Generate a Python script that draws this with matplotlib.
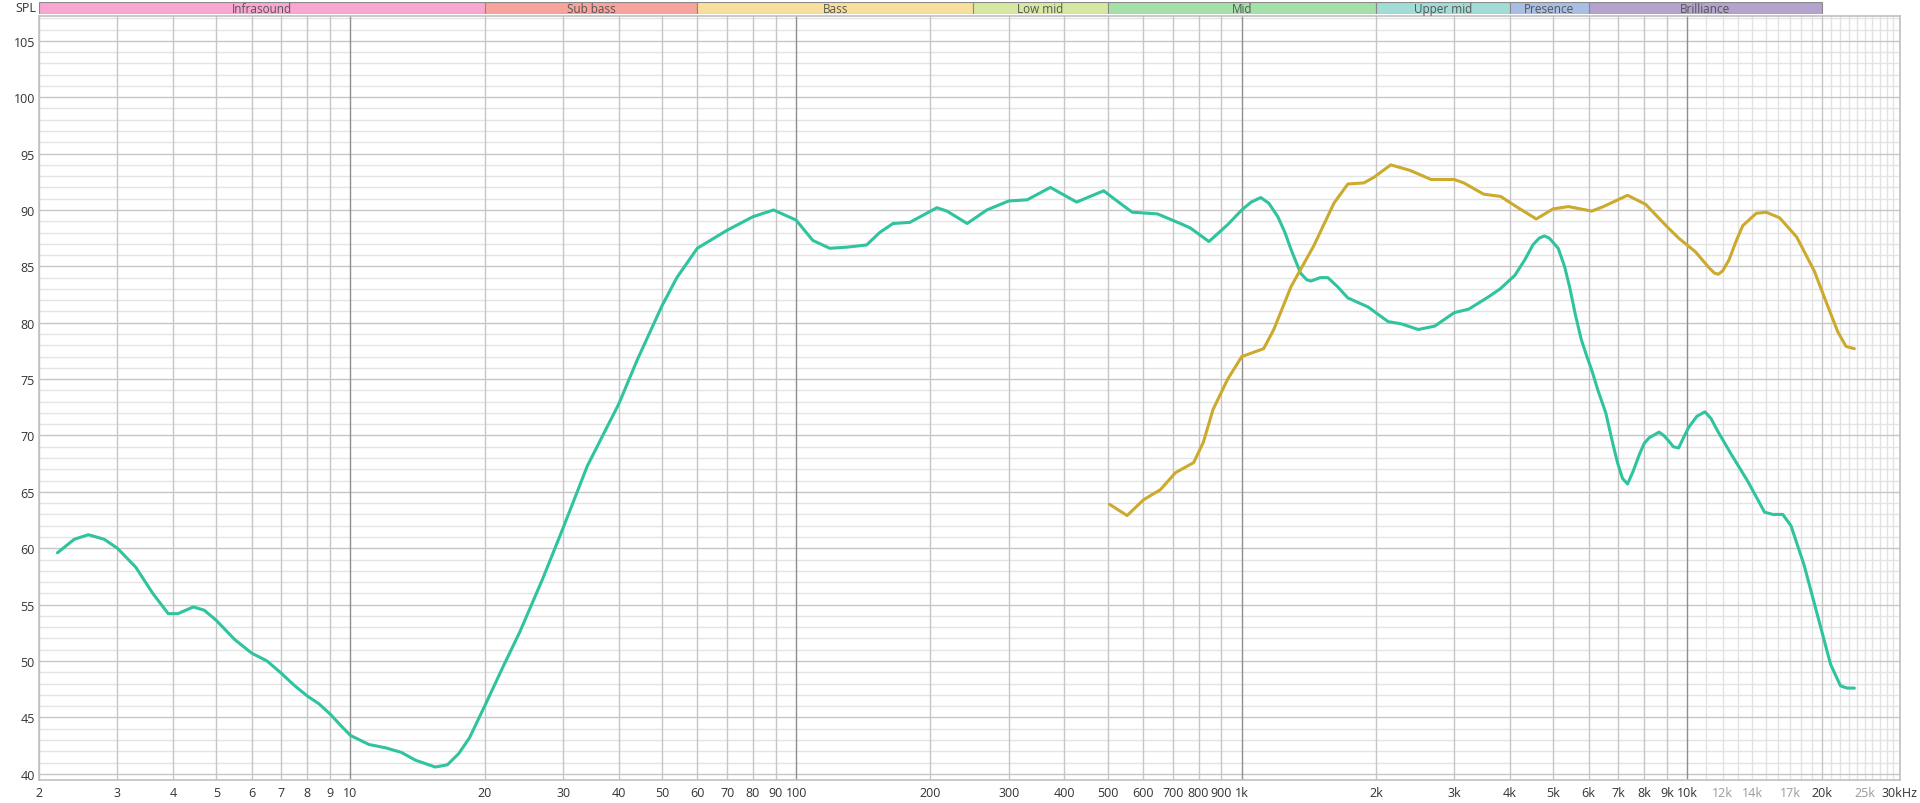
import matplotlib
matplotlib.use("Agg")
import matplotlib.pyplot as plt
from matplotlib.patches import Rectangle

plt.rcParams['font.family'] = ['Open Sans', 'DejaVu Sans']

# ---- data ----
teal_f = [2.2, 2.4, 2.58, 2.8, 3.0, 3.3, 3.6, 3.9, 4.1, 4.44, 4.7, 5.0, 5.5, 6.0, 6.5, 7.0, 7.5, 8.0, 8.5, 9.0,
          9.5, 10, 11, 12, 13, 14, 15.5, 16.5, 17.5, 18.5, 20, 22, 24, 27, 30, 34, 40, 44, 50, 54, 60, 70, 80, 89,
          100, 109, 119, 130, 144, 154, 165, 180, 190, 207, 218, 242, 268, 300, 330, 372, 426, 490, 533, 568,
          647, 728, 767, 844, 930, 1000, 1050, 1103, 1150, 1205, 1250, 1290, 1355, 1400, 1430, 1500, 1560,
          1640, 1730, 1920, 2130, 2280, 2490, 2710, 3000, 3230, 3580, 3800, 4100, 4320, 4500, 4650, 4775,
          4900, 5130, 5300, 5440, 5600, 5780, 5950, 6100, 6300, 6560, 6800, 6970, 7150, 7340, 7550, 7800,
          8000, 8210, 8640, 8850, 9090, 9300, 9560, 9800, 10060, 10500, 10950, 11300, 11730, 12560, 13680,
          14900, 15560, 16370, 17080, 18280, 19580, 20960, 22060, 22830, 23700]
teal_db = [59.6, 60.8, 61.2, 60.8, 60.0, 58.3, 56.0, 54.2, 54.2, 54.8, 54.5, 53.6, 51.9, 50.7, 50.0, 48.9,
           47.8, 46.9, 46.2, 45.3, 44.3, 43.4, 42.6, 42.3, 41.9, 41.2, 40.6, 40.8, 41.8, 43.2, 46.0, 49.5,
           52.6, 57.3, 61.8, 67.3, 72.8, 76.7, 81.5, 84.0, 86.6, 88.2, 89.4, 90.0, 89.1, 87.3, 86.6, 86.7,
           86.9, 88.0, 88.8, 88.9, 89.4, 90.2, 89.9, 88.8, 90.0, 90.8, 90.9, 92.0, 90.7, 91.7, 90.6, 89.8,
           89.65, 88.8, 88.4, 87.2, 88.7, 90.0, 90.7, 91.1, 90.6, 89.4, 88.0, 86.5, 84.4, 83.8, 83.7, 84.0,
           84.0, 83.2, 82.2, 81.4, 80.1, 79.9, 79.4, 79.7, 80.9, 81.2, 82.3, 83.0, 84.2, 85.6, 86.9, 87.5,
           87.7, 87.5, 86.6, 85.0, 83.2, 80.8, 78.5, 77.0, 75.8, 74.0, 72.0, 69.3, 67.6, 66.2, 65.7, 66.8,
           68.3, 69.3, 69.8, 70.3, 70.0, 69.5, 69.0, 68.9, 69.8, 70.7, 71.7, 72.1, 71.5, 70.3, 68.3, 65.9,
           63.2, 63.0, 63.0, 62.0, 58.5, 54.1, 49.7, 47.8, 47.6, 47.6]

gold_f = [505, 553, 602, 657, 710, 780, 820, 862, 930, 1000, 1120, 1180, 1290, 1450, 1610, 1730, 1880, 1980,
          2160, 2390, 2660, 3000, 3150, 3490, 3810, 4130, 4580, 5000, 5410, 6100, 6480, 7340, 8060, 8960,
          9560, 10420, 11170, 11500, 11730, 12000, 12410, 12850, 13310, 14270, 15030, 16110, 17590, 19260,
          20640, 21750, 22700, 23700]
gold_db = [63.9, 62.9, 64.3, 65.2, 66.7, 67.6, 69.4, 72.3, 75.0, 77.0, 77.7, 79.4, 83.2, 86.8, 90.6, 92.3,
           92.4, 92.9, 94.0, 93.5, 92.7, 92.7, 92.4, 91.4, 91.2, 90.3, 89.2, 90.1, 90.3, 89.9, 90.3, 91.3,
           90.5, 88.6, 87.5, 86.3, 84.9, 84.4, 84.3, 84.6, 85.6, 87.2, 88.6, 89.7, 89.8, 89.3, 87.6, 84.6,
           81.5, 79.2, 77.9, 77.7]

band_names = ["Infrasound", "Sub bass", "Bass", "Low mid", "Mid", "Upper mid", "Presence", "Brilliance"]
band_lo = [2, 20, 60, 250, 500, 2000, 4000, 6000]
band_hi = [20, 60, 250, 500, 2000, 4000, 6000, 20000]
band_colors = ["#f9a6d2", "#f8a39b", "#f9df9c", "#d6e8a1", "#a4e1a8", "#a2dcd6", "#a8bfe3", "#b4a3cd"]

x_ticks = [2, 3, 4, 5, 6, 7, 8, 9, 10, 20, 30, 40, 50, 60, 70, 80, 90, 100, 200, 300, 400, 500, 600, 700,
           800, 900, 1000, 2000, 3000, 4000, 5000, 6000, 7000, 8000, 9000, 10000, 12000, 14000, 17000,
           20000, 25000, 30000]
x_labels = ["2", "3", "4", "5", "6", "7", "8", "9", "10", "20", "30", "40", "50", "60", "70", "80", "90",
            "100", "200", "300", "400", "500", "600", "700", "800", "900", "1k", "2k", "3k", "4k", "5k",
            "6k", "7k", "8k", "9k", "10k", "12k", "14k", "17k", "20k", "25k", "30kHz"]
light_labels = ["12k", "14k", "17k", "25k"]
y_ticks = list(range(40, 106, 5))

# ---- figure ----
W, H = 1920, 804
fig = plt.figure(figsize=(W / 100, H / 100), dpi=100)
fig.patch.set_facecolor("white")
L, R, T, B = 39, 1900, 17, 781
ax = fig.add_axes([L / W, 1 - B / H, (R - L) / W, (B - T) / H])
ax.set_xscale("log")
ax.set_xlim(2, 30000)
ax.set_ylim(39.45, 107.2)

# grid
for v in range(40, 108):
    if v % 5 == 0:
        ax.axhline(v, color="#c6c6c6", lw=1.0, zorder=1)
    else:
        ax.axhline(v, color="#e4e4e4", lw=1.0, zorder=0.5)
for dec in [1, 10, 100, 1000]:
    for m in range(2, 10):
        ax.axvline(m * dec, color="#c6c6c6", lw=1.0, zorder=1)
for v in [10, 100, 1000, 10000]:
    ax.axvline(v, color="#8e8e8e", lw=1.0, zorder=1.2)
for k in range(11, 31):
    if k == 20:
        ax.axvline(k * 1000, color="#c6c6c6", lw=1.0, zorder=1)
    else:
        ax.axvline(k * 1000, color="#e2e2e2", lw=1.0, zorder=0.8)

ax.plot(teal_f, teal_db, color="#2fc39e", lw=2.2, zorder=3, solid_joinstyle="round", solid_capstyle="round")
ax.plot(gold_f, gold_db, color="#cbaa2d", lw=2.2, zorder=3, solid_joinstyle="round", solid_capstyle="round")

for s in ax.spines.values():
    s.set_color("#c0c0c0")
    s.set_linewidth(1.2)

ax.set_xticks(x_ticks)
ax.set_xticklabels(x_labels)
ax.minorticks_off()
ax.set_yticks(y_ticks)
ax.set_yticklabels([str(v) for v in y_ticks])
ax.tick_params(axis="both", length=0, labelsize=9, colors="#333333")
ax.tick_params(axis="y", pad=3)
ax.tick_params(axis="x", pad=4)
for lab in ax.get_xticklabels():
    if lab.get_text() in light_labels:
        lab.set_color("#9a9a9a")

# band axis
bax = fig.add_axes([L / W, 1 - 15 / H, (R - L) / W, 12.5 / H])
bax.set_xscale("log")
bax.set_xlim(2, 30000)
bax.set_ylim(0, 1)
bax.axis("off")
for name, lo, hi, c in zip(band_names, band_lo, band_hi, band_colors):
    bax.add_patch(Rectangle((lo, 0), hi - lo, 1, facecolor=c, edgecolor="#8a8a8a", lw=0.8))
    bax.text((lo * hi) ** 0.5, 0.45, name, ha="center", va="center", fontsize=8.5, color="#555555")

fig.text(36 / W, 1 - 8 / H, "SPL", ha="right", va="center", fontsize=9, color="#333333")

fig.savefig("out.png", dpi=100, facecolor="white")
